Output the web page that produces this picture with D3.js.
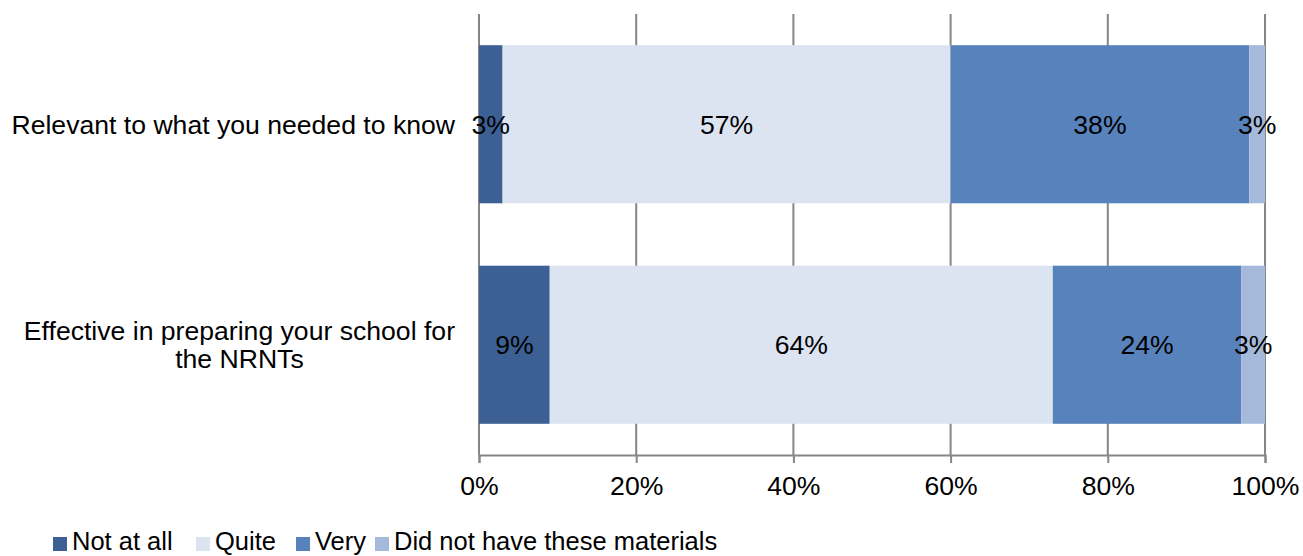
<!DOCTYPE html>
<html>
<head>
<meta charset="utf-8">
<script src="https://cdn.jsdelivr.net/npm/d3@7"></script>
<style>
  html, body { margin: 0; padding: 0; background: #fff; }
  svg text { font-family: "Liberation Sans", Arial, sans-serif; fill: #000; }
</style>
</head>
<body>
<svg id="chart" width="1303" height="556"></svg>
<script>
// Survey items (each entry is one line of the label)
const categories = [
  ["Relevant to what you needed to know"],
  ["Effective in preparing your school for", "the NRNTs"]
];
const seriesNames = ["Not at all", "Quite", "Very", "Did not have these materials"];
const seriesColors = ["#3C6094", "#DBE4F0", "#5882BC", "#A5BADB"];
// Percentages per item, in series order
const notAtAll = [3, 9];
const quite = [57, 64];
const very = [38, 24];
const didNotHave = [3, 3];
const tickValues = [0, 0.2, 0.4, 0.6, 0.8, 1];

const svg = d3.select("#chart");
const fontSize = 26.6;
const margin = { left: 479, right: 38, top: 14, bottom: 101 };
const W = 1303, H = 556;
const plotW = W - margin.left - margin.right;
const plotH = H - margin.top - margin.bottom;

const rows = categories.map((c, i) => ({
  key: i,
  "Not at all": notAtAll[i] / 100,
  "Quite": quite[i] / 100,
  "Very": very[i] / 100,
  "Did not have these materials": didNotHave[i] / 100
}));

// stacked shares; anything past 100% is clipped at the plot edge
const stacked = d3.stack().keys(seriesNames)(rows);

const x = d3.scaleLinear().domain([0, 1]).range([margin.left, margin.left + plotW]);
const y = d3.scaleBand().domain(rows.map(r => r.key))
  .range([margin.top, margin.top + plotH])
  .paddingInner(0.283).paddingOuter(0.1415);

svg.append("defs").append("clipPath").attr("id", "plot-clip")
  .append("rect")
  .attr("x", margin.left).attr("y", margin.top)
  .attr("width", plotW).attr("height", plotH);

// vertical gridlines
svg.append("g").selectAll("line").data(tickValues).join("line")
  .attr("x1", d => x(d)).attr("x2", d => x(d))
  .attr("y1", margin.top).attr("y2", margin.top + plotH)
  .attr("stroke", "#868686").attr("stroke-width", 2);

// bars
const layers = svg.append("g").attr("clip-path", "url(#plot-clip)")
  .selectAll("g").data(stacked).join("g")
  .attr("fill", (d, i) => seriesColors[i]);
layers.selectAll("rect").data(d => d).join("rect")
  .attr("x", d => x(d[0]))
  .attr("width", d => x(d[1]) - x(d[0]))
  .attr("y", d => y(d.data.key))
  .attr("height", y.bandwidth());

// data labels
svg.append("g").selectAll("g").data(stacked).join("g")
  .each(function(layer) {
    d3.select(this).selectAll("text").data(layer).join("text")
      .attr("x", d => (x(d[0]) + x(Math.min(d[1], 1))) / 2)
      .attr("y", d => y(d.data.key) + y.bandwidth() / 2)
      .attr("dy", "0.36em")
      .attr("text-anchor", "middle")
      .attr("font-size", fontSize)
      .text(d => Math.round(d.data[layer.key] * 100) + "%");
  });

// horizontal axis
const xAxis = d3.axisBottom(x).tickValues(tickValues)
  .tickFormat(d3.format(".0%")).tickSize(8).tickPadding(13);
const gx = svg.append("g")
  .attr("transform", `translate(0,${margin.top + plotH})`)
  .call(xAxis);
gx.select(".domain").attr("stroke", "#868686").attr("stroke-width", 2);
gx.selectAll(".tick line").attr("stroke", "#868686").attr("stroke-width", 2);
gx.selectAll(".tick text")
  .attr("font-size", fontSize)
  .attr("font-family", "Liberation Sans, Arial, sans-serif")
  .attr("fill", "#000");

// category labels, right-aligned block with centred lines
const labelRight = 455;
const lineH = 28;
categories.forEach((lines, i) => {
  const g = svg.append("g");
  const cy = y(i) + y.bandwidth() / 2;
  const texts = lines.map((ln, j) => g.append("text")
    .attr("font-size", fontSize)
    .attr("text-anchor", "middle")
    .attr("dy", "0.36em")
    .attr("y", cy + (j - (lines.length - 1) / 2) * lineH)
    .text(ln));
  const maxW = d3.max(texts, t => t.node().getComputedTextLength());
  texts.forEach(t => t.attr("x", labelRight - maxW / 2));
});

// legend
const legendX = [53, 196, 296, 375];
const legend = svg.append("g");
seriesNames.forEach((name, i) => {
  legend.append("rect")
    .attr("x", legendX[i]).attr("y", 537)
    .attr("width", 14).attr("height", 14)
    .attr("fill", seriesColors[i]);
  legend.append("text")
    .attr("x", legendX[i] + 19).attr("y", 550)
    .attr("font-size", 25.5)
    .text(name);
});
</script>
</body>
</html>
